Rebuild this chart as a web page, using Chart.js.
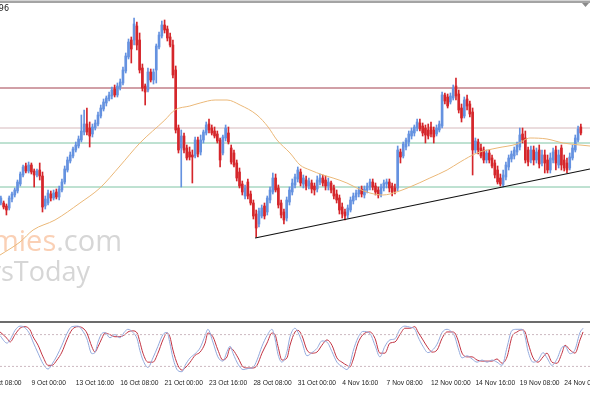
<!DOCTYPE html>
<html><head><meta charset="utf-8">
<script src="https://cdn.jsdelivr.net/npm/chart.js@4"></script>
<style>
html,body{margin:0;padding:0;background:#fff;width:590px;height:393px;overflow:hidden}
#wrap{position:relative;width:590px;height:393px;background:#fff}
#topline{position:absolute;left:0;top:0;width:590px;height:3px;background:#a4a4a4;border-top:1px solid #d4d4d4;box-sizing:border-box}
#main{position:absolute;left:0;top:3px}
#sep{position:absolute;left:0;top:321px;width:590px;height:2px;background:#6c6c6c}
#stoch{position:absolute;left:0;top:323px}
</style></head><body>
<div id="wrap">
<div id="topline"></div>
<canvas id="main" width="590" height="318"></canvas>
<div id="sep"></div>
<canvas id="stoch" width="590" height="70"></canvas>
</div>
<script>
// H4 bars, bar 0 = 6 Oct 08:00; first visible candle is bar 5
const FIRST_BAR = 5;
const BARS_PER_LABEL = 16;
const tickLabels = ["6 Oct 08:00","9 Oct 00:00","13 Oct 16:00","16 Oct 08:00","21 Oct 00:00","23 Oct 16:00","28 Oct 08:00","31 Oct 00:00","4 Nov 16:00","7 Nov 08:00","12 Nov 00:00","14 Nov 16:00","19 Nov 08:00","24 Nov 00:00"];

const openP = [
1.2594,1.2594,1.2588,1.2584,1.2602,1.2610,1.2618,1.2632,1.2650,1.2668,
1.2658,1.2670,1.2658,1.2650,1.2660,1.2648,1.2588,1.2594,1.2612,1.2604,
1.2616,1.2606,1.2620,1.2636,1.2660,1.2678,1.2688,1.2700,1.2708,1.2720,
1.2736,1.2752,1.2744,1.2732,1.2744,1.2752,1.2768,1.2782,1.2794,1.2802,
1.2808,1.2822,1.2810,1.2826,1.2834,1.2858,1.2886,1.2920,1.2920,1.2948,
1.2920,1.2864,1.2828,1.2820,1.2856,1.2840,1.2860,1.2906,1.2928,1.2950,
1.2942,1.2926,1.2910,1.2860,1.2744,1.2704,1.2728,1.2704,1.2696,1.2690,
1.2688,1.2720,1.2696,1.2720,1.2734,1.2752,1.2744,1.2738,1.2732,1.2720,
1.2694,1.2724,1.2734,1.2704,1.2694,1.2674,1.2656,1.2632,1.2608,1.2636,
1.2612,1.2594,1.2572,1.2552,1.2568,1.2588,1.2576,1.2600,1.2616,1.2644,
1.2624,1.2594,1.2576,1.2564,1.2596,1.2616,1.2630,1.2642,1.2656,1.2632,
1.2640,1.2628,1.2634,1.2628,1.2622,1.2636,1.2644,1.2640,1.2628,1.2634,
1.2624,1.2612,1.2604,1.2586,1.2576,1.2570,1.2580,1.2598,1.2606,1.2612,
1.2622,1.2610,1.2620,1.2626,1.2636,1.2628,1.2620,1.2612,1.2624,1.2632,
1.2636,1.2628,1.2624,1.2624,1.2696,1.2688,1.2706,1.2716,1.2728,1.2734,
1.2744,1.2754,1.2748,1.2744,1.2740,1.2746,1.2740,1.2732,1.2740,1.2748,
1.2810,1.2806,1.2796,1.2804,1.2828,1.2812,1.2784,1.2768,1.2802,1.2792,
1.2776,1.2700,1.2716,1.2704,1.2700,1.2680,1.2694,1.2684,1.2674,1.2660,
1.2644,1.2630,1.2646,1.2666,1.2682,1.2688,1.2696,1.2706,1.2732,1.2724,
1.2700,1.2680,1.2700,1.2680,1.2700,1.2674,1.2690,1.2680,1.2660,1.2680,
1.2700,1.2670,1.2704,1.2680,1.2674,1.2664,1.2684,1.2700,1.2720,1.2746];

const highP = [
1.2608,1.2598,1.2592,1.2608,1.2616,1.2624,1.2640,1.2656,1.2670,1.2674,
1.2676,1.2674,1.2662,1.2662,1.2674,1.2656,1.2608,1.2620,1.2618,1.2620,
1.2622,1.2628,1.2642,1.2668,1.2686,1.2696,1.2706,1.2716,1.2728,1.2770,
1.2780,1.2784,1.2756,1.2752,1.2760,1.2776,1.2790,1.2802,1.2808,1.2816,
1.2826,1.2830,1.2834,1.2842,1.2866,1.2894,1.2922,1.2926,1.2964,1.2956,
1.2934,1.2872,1.2832,1.2864,1.2862,1.2862,1.2912,1.2936,1.2958,1.2960,
1.2948,1.2934,1.2920,1.2868,1.2750,1.2740,1.2734,1.2710,1.2706,1.2700,
1.2726,1.2726,1.2730,1.2740,1.2756,1.2762,1.2750,1.2746,1.2738,1.2724,
1.2730,1.2750,1.2746,1.2710,1.2700,1.2680,1.2664,1.2638,1.2630,1.2642,
1.2618,1.2600,1.2580,1.2584,1.2590,1.2594,1.2608,1.2626,1.2654,1.2652,
1.2630,1.2600,1.2582,1.2606,1.2626,1.2642,1.2652,1.2666,1.2662,1.2650,
1.2648,1.2644,1.2640,1.2634,1.2648,1.2652,1.2650,1.2648,1.2644,1.2638,
1.2630,1.2620,1.2610,1.2594,1.2582,1.2590,1.2606,1.2614,1.2620,1.2626,
1.2628,1.2628,1.2634,1.2642,1.2642,1.2634,1.2626,1.2632,1.2640,1.2642,
1.2642,1.2634,1.2632,1.2708,1.2702,1.2716,1.2724,1.2738,1.2744,1.2750,
1.2762,1.2762,1.2754,1.2750,1.2752,1.2756,1.2746,1.2750,1.2758,1.2816,
1.2814,1.2812,1.2814,1.2830,1.2844,1.2820,1.2792,1.2806,1.2810,1.2798,
1.2784,1.2724,1.2722,1.2712,1.2706,1.2700,1.2700,1.2690,1.2680,1.2668,
1.2652,1.2660,1.2676,1.2690,1.2698,1.2706,1.2716,1.2744,1.2744,1.2738,
1.2706,1.2708,1.2708,1.2704,1.2710,1.2700,1.2700,1.2690,1.2694,1.2704,
1.2708,1.2700,1.2710,1.2690,1.2684,1.2694,1.2710,1.2730,1.2748,1.2752];

const lowP = [
1.2590,1.2582,1.2570,1.2580,1.2596,1.2606,1.2614,1.2628,1.2646,1.2654,
1.2654,1.2652,1.2626,1.2646,1.2640,1.2576,1.2582,1.2590,1.2598,1.2600,
1.2602,1.2600,1.2616,1.2632,1.2656,1.2674,1.2684,1.2696,1.2704,1.2716,
1.2730,1.2730,1.2706,1.2726,1.2740,1.2748,1.2764,1.2778,1.2788,1.2798,
1.2802,1.2806,1.2806,1.2820,1.2830,1.2854,1.2882,1.2874,1.2910,1.2900,
1.2854,1.2818,1.2790,1.2816,1.2836,1.2832,1.2834,1.2902,1.2924,1.2934,
1.2918,1.2906,1.2844,1.2734,1.2694,1.2626,1.2694,1.2680,1.2680,1.2634,
1.2684,1.2686,1.2690,1.2714,1.2730,1.2734,1.2730,1.2724,1.2714,1.2666,
1.2690,1.2718,1.2712,1.2672,1.2666,1.2638,1.2624,1.2610,1.2602,1.2602,
1.2590,1.2562,1.2526,1.2546,1.2564,1.2562,1.2570,1.2594,1.2612,1.2616,
1.2584,1.2564,1.2552,1.2558,1.2590,1.2610,1.2624,1.2636,1.2628,1.2624,
1.2620,1.2622,1.2614,1.2610,1.2616,1.2630,1.2628,1.2620,1.2620,1.2614,
1.2602,1.2594,1.2572,1.2564,1.2560,1.2564,1.2576,1.2592,1.2600,1.2606,
1.2606,1.2604,1.2614,1.2620,1.2620,1.2610,1.2604,1.2606,1.2618,1.2624,
1.2616,1.2608,1.2612,1.2618,1.2674,1.2684,1.2700,1.2708,1.2722,1.2728,
1.2738,1.2738,1.2728,1.2714,1.2722,1.2726,1.2714,1.2728,1.2736,1.2744,
1.2792,1.2784,1.2792,1.2800,1.2800,1.2774,1.2756,1.2764,1.2780,1.2766,
1.2650,1.2694,1.2692,1.2684,1.2674,1.2674,1.2674,1.2664,1.2644,1.2632,
1.2628,1.2626,1.2640,1.2660,1.2676,1.2682,1.2690,1.2700,1.2714,1.2674,
1.2668,1.2674,1.2670,1.2674,1.2664,1.2668,1.2654,1.2654,1.2654,1.2674,
1.2660,1.2664,1.2660,1.2658,1.2654,1.2660,1.2680,1.2696,1.2716,1.2730];

const closeP = [
1.2604,1.2586,1.2580,1.2604,1.2612,1.2620,1.2636,1.2652,1.2666,1.2658,
1.2670,1.2656,1.2650,1.2658,1.2648,1.2586,1.2602,1.2614,1.2604,1.2614,
1.2606,1.2622,1.2636,1.2662,1.2680,1.2690,1.2702,1.2710,1.2722,1.2738,
1.2752,1.2736,1.2728,1.2746,1.2754,1.2770,1.2784,1.2796,1.2804,1.2810,
1.2820,1.2810,1.2828,1.2836,1.2860,1.2888,1.2916,1.2902,1.2952,1.2910,
1.2860,1.2824,1.2816,1.2856,1.2840,1.2856,1.2908,1.2930,1.2950,1.2940,
1.2924,1.2910,1.2850,1.2740,1.2700,1.2728,1.2700,1.2684,1.2686,1.2686,
1.2720,1.2692,1.2720,1.2736,1.2750,1.2740,1.2734,1.2728,1.2718,1.2680,
1.2726,1.2744,1.2716,1.2676,1.2670,1.2644,1.2628,1.2616,1.2624,1.2608,
1.2594,1.2568,1.2544,1.2578,1.2584,1.2568,1.2604,1.2620,1.2644,1.2620,
1.2590,1.2570,1.2560,1.2600,1.2620,1.2634,1.2646,1.2660,1.2634,1.2644,
1.2628,1.2638,1.2622,1.2620,1.2640,1.2644,1.2634,1.2628,1.2636,1.2620,
1.2608,1.2600,1.2580,1.2572,1.2568,1.2584,1.2600,1.2608,1.2614,1.2620,
1.2612,1.2622,1.2628,1.2636,1.2626,1.2616,1.2610,1.2626,1.2634,1.2636,
1.2624,1.2616,1.2618,1.2700,1.2686,1.2712,1.2720,1.2732,1.2738,1.2746,
1.2756,1.2742,1.2734,1.2730,1.2728,1.2732,1.2726,1.2744,1.2752,1.2810,
1.2798,1.2788,1.2808,1.2824,1.2808,1.2780,1.2764,1.2800,1.2788,1.2772,
1.2700,1.2718,1.2700,1.2688,1.2680,1.2694,1.2680,1.2668,1.2650,1.2636,
1.2632,1.2650,1.2670,1.2684,1.2692,1.2700,1.2710,1.2730,1.2720,1.2680,
1.2676,1.2700,1.2680,1.2696,1.2672,1.2690,1.2674,1.2660,1.2684,1.2696,
1.2674,1.2690,1.2670,1.2664,1.2660,1.2686,1.2704,1.2724,1.2742,1.2734];

// 50-period moving average (bar index, price)
const maIdx = [4.7,11.9,16.6,24.5,33.5,40.7,47.9,55.1,64.1,67.7,73.1,76.8,82.2,86.5,91.2,97.3,101.3,104.5,109.2,112.8,116.4,121.1,124.7,129.7,133.3,138.0,142.7,145.2,152.4,159.6,165.8,170.5,176.6,183.8,191.0,195.7,201.8,207.6,213.7,217.3];
const maVal = [1.2490,1.2516,1.2540,1.2560,1.2594,1.2624,1.2668,1.2714,1.2760,1.2780,1.2788,1.2794,1.2800,1.2800,1.2790,1.2770,1.2746,1.2720,1.2694,1.2670,1.2660,1.2650,1.2644,1.2634,1.2624,1.2614,1.2610,1.2612,1.2626,1.2644,1.2660,1.2676,1.2694,1.2704,1.2712,1.2724,1.2722,1.2714,1.2710,1.2708];

// horizontal levels
const levelResistance = 1.2824;
const levelUpper = 1.2744;
const levelGreenHigh = 1.2714;
const levelGreenLow = 1.2626;
// rising trend line
const trendIdx = [96.6, 217.3];
const trendVal = [1.2524, 1.2662];

// stochastic oscillator
const stochIdx = [4.7,7.2,8.3,10.1,11.9,13.7,15.5,16.6,18.4,20.2,
22.0,23.4,25.2,27.0,28.8,30.6,32.8,34.6,36.0,37.8,
38.9,40.0,41.4,42.5,44.3,46.1,47.9,49.7,50.8,52.6,
54.1,55.1,56.2,58.0,59.8,61.6,63.4,64.9,65.9,67.0,
68.8,70.3,71.4,73.2,75.0,76.8,78.6,79.6,81.4,83.2,
85.0,86.5,87.6,88.7,90.5,92.3,94.1,95.9,97.3,99.1,
100.9,102.7,103.8,104.9,106.3,108.1,109.2,111.0,112.1,113.5,
115.3,117.1,118.9,120.7,122.5,124.3,126.1,127.9,129.7,130.8,
131.9,133.7,135.5,138.0,139.8,141.6,143.4,145.2,147.0,148.8,
150.6,152.4,154.2,155.3,157.1,158.9,160.4,162.2,164.0,165.8,
167.6,168.6,169.7,171.2,173.0,174.8,176.6,178.4,180.2,182.0,
183.8,185.6,187.4,189.2,191.0,192.8,193.9,195.0,196.8,198.6,
200.4,201.8,203.6,205.4,207.2,208.3,210.1,211.9,213.7,214.8];
const stochD = [85,73,66,80,92,95,89,76,60,38,
22,22,32,47,70,89,95,92,83,57,
47,57,73,83,80,76,76,80,85,87,
83,66,45,28,28,45,70,83,76,51,
22,13,17,28,41,47,64,83,76,51,
32,38,55,51,36,19,17,17,22,45,
64,83,80,57,32,36,60,85,88,78,
51,45,47,60,70,60,36,28,22,19,
32,64,80,85,73,45,45,64,66,80,
92,92,95,85,70,55,47,51,73,85,
85,83,70,45,38,38,32,30,30,30,
34,26,38,76,85,89,85,64,36,28,
38,45,28,26,45,60,51,45,70,85];
const stochK = [78,64,70,88,96,93,80,66,45,25,
15,24,40,60,82,95,96,86,72,44,
46,66,82,84,74,80,74,86,90,84,
72,50,32,18,36,58,80,84,64,36,
12,10,22,36,44,55,78,90,66,38,
30,48,58,44,24,14,16,18,32,58,
78,90,72,42,28,48,76,92,84,66,
40,46,54,68,66,48,28,20,14,24,
48,74,86,82,60,38,58,70,72,90,
96,94,90,76,58,46,50,62,84,90,
84,76,56,36,40,34,28,32,28,32,
28,22,56,88,90,90,76,48,28,32,
46,36,22,34,56,58,44,52,84,92];
const stochLevels = [80, 20];

const X_MIN = 4.685, X_MAX = 217.3;
const Y_MIN = 1.2358, Y_MAX = 1.2994;
const BULL = '#6592e0', BEAR = '#d5262b';

const idx = openP.map((_, k) => FIRST_BAR + k);
const candleColor = openP.map((o, k) => closeP[k] >= o ? BULL : BEAR);

function hline(v, color, order) {
  return {type:'line', data:[{x:X_MIN,y:v},{x:X_MAX,y:v}], borderColor:color, borderWidth:1, pointRadius:0, order:order};
}

const decor = {
  id:'decor',
  beforeDatasetsDraw(chart){
    const c = chart.ctx;
    c.save();
    c.textBaseline = 'alphabetic';
    c.font = '29px "Open Sans"';
    c.textAlign = 'right';
    c.fillStyle = 'rgba(200,200,200,0.75)';
    c.fillText('.com', 122, 248);
    const w = c.measureText('.com').width;
    c.fillStyle = 'rgba(245,170,120,0.55)';
    c.fillText('Economies', 122 - w, 248);
    c.font = '27px "Open Sans"';
    c.fillStyle = 'rgba(200,200,200,0.75)';
    c.fillText('ysToday', 90, 278);
    c.restore();
  },
  afterDraw(chart){
    const c = chart.ctx;
    c.save();
    c.fillStyle = '#222';
    c.font = '8px "DejaVu Sans"';
    c.textBaseline = 'alphabetic';
    c.textAlign = 'right';
    c.fillText('1.2496', 9, 8);
    c.fillStyle = '#8a8a8a';
    c.beginPath(); c.moveTo(582,0); c.lineTo(589,0); c.lineTo(585.5,4); c.closePath(); c.fill();
    c.restore();
  }
};

new Chart(document.getElementById('main'), {
  type:'bar',
  data:{datasets:[
    hline(levelResistance, '#a3404f', 10),
    hline(levelUpper, '#d6b9bc', 10),
    hline(levelGreenHigh, '#7fc4a4', 10),
    hline(levelGreenLow, '#7fc4a4', 10),
    {label:'wick', data: idx.map((x,k)=>({x:x, y:[lowP[k], highP[k]]})), backgroundColor:candleColor, barThickness:1, grouped:false, order:4},
    {label:'body', data: idx.map((x,k)=>({x:x, y:[openP[k], closeP[k]]})), backgroundColor:candleColor, barThickness:2, minBarLength:1, grouped:false, order:3},
    {type:'line', label:'MA', data: maIdx.map((x,k)=>({x:x, y:maVal[k]})), borderColor:'#ebb878', borderWidth:1, pointRadius:0, cubicInterpolationMode:'monotone', order:2},
    {type:'line', label:'trend', data: trendIdx.map((x,k)=>({x:x, y:trendVal[k]})), borderColor:'#111', borderWidth:1.2, pointRadius:0, order:1}
  ]},
  options:{
    responsive:false, animation:false, devicePixelRatio:1, events:[],
    layout:{padding:0},
    plugins:{legend:{display:false}, tooltip:{enabled:false}},
    scales:{
      x:{type:'linear', display:false, offset:false, min:X_MIN, max:X_MAX},
      y:{display:false, min:Y_MIN, max:Y_MAX}
    }
  },
  plugins:[decor]
});

new Chart(document.getElementById('stoch'), {
  type:'line',
  data:{datasets:[
    {data:[{x:X_MIN,y:stochLevels[0]},{x:X_MAX,y:stochLevels[0]}], borderColor:'#cdb8c0', borderDash:[2,2], borderWidth:1, pointRadius:0},
    {data:[{x:X_MIN,y:stochLevels[1]},{x:X_MAX,y:stochLevels[1]}], borderColor:'#cdb8c0', borderDash:[2,2], borderWidth:1, pointRadius:0},
    {data: stochIdx.map((x,k)=>({x:x, y:stochK[k]})), borderColor:'#93aadd', borderWidth:1, pointRadius:0, cubicInterpolationMode:'monotone'},
    {data: stochIdx.map((x,k)=>({x:x, y:stochD[k]})), borderColor:'#c23342', borderWidth:1, pointRadius:0, cubicInterpolationMode:'monotone'}
  ]},
  options:{
    responsive:false, animation:false, devicePixelRatio:1, events:[],
    layout:{padding:{top:1,left:0,right:0,bottom:0}},
    plugins:{legend:{display:false}, tooltip:{enabled:false}},
    scales:{
      x:{type:'linear', min:X_MIN, max:X_MAX, position:'bottom', offset:false,
         grid:{display:false, drawTicks:false}, border:{display:false},
         afterBuildTicks: s => { s.ticks = tickLabels.map((_,k)=>({value:k*BARS_PER_LABEL})); },
         afterFit: s => { s.paddingLeft = 0; s.paddingRight = 0; s.height = 16; },
         ticks:{autoSkip:false, maxRotation:0, minRotation:0, align:'start', padding:2, color:'#1c1c1c',
                font:{family:'Liberation Sans', size:6.7},
                callback: v => tickLabels[Math.round(v/BARS_PER_LABEL)]}
      },
      y:{display:false, min:0, max:100}
    }
  }
});
</script>
</body></html>
